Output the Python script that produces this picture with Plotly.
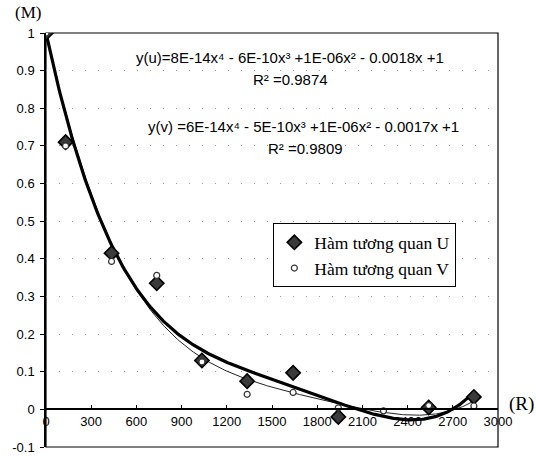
import numpy as np
import plotly.graph_objects as go

# ---- data ----
r_values = [0, 130, 435, 735, 1035, 1335, 1640, 1940, 2240, 2540, 2840]
u_values = [1.0, 0.71, 0.415, 0.335, 0.13, 0.075, 0.097, -0.02, None, 0.005, 0.033]
v_values = [1.0, 0.70, 0.393, 0.356, 0.126, 0.04, 0.045, 0.004, -0.004, 0.01, 0.009]

x_ticks = [0, 300, 600, 900, 1200, 1500, 1800, 2100, 2400, 2700, 3000]
y_ticks = [-0.1, 0, 0.1, 0.2, 0.3, 0.4, 0.5, 0.6, 0.7, 0.8, 0.9, 1]
y_tick_text = ["-0.1", "0", "0.1", "0.2", "0.3", "0.4", "0.5", "0.6", "0.7", "0.8", "0.9", "1"]

series_names = ["Hàm tương quan U", "Hàm tương quan V"]
eq_u = "y(u)=8E-14x⁴ - 6E-10x³ +1E-06x² - 0.0018x +1"
r2_u = "R² =0.9874"
eq_v = "y(v) =6E-14x⁴ - 5E-10x³ +1E-06x² - 0.0017x +1"
r2_v = "R² =0.9809"


def poly_trend(xs, ys):
    pts = [(a, b) for a, b in zip(xs, ys) if b is not None]
    xa = np.array([p[0] for p in pts], float)
    ya = np.array([p[1] for p in pts], float)
    # intercept fixed at 1 (as in the displayed equations)
    A = np.vstack([xa ** k for k in range(1, 5)]).T
    coef, *_ = np.linalg.lstsq(A, ya - 1.0, rcond=None)
    xf = np.linspace(xa.min(), xa.max(), 300)
    yf = 1.0 + sum(coef[k - 1] * xf ** k for k in range(1, 5))
    return xf, yf


xu, yu = poly_trend(r_values, u_values)
xv, yv = poly_trend(r_values, v_values)

fig = go.Figure()
fig.add_trace(go.Scatter(x=xv, y=yv, mode="lines", line=dict(color="#222", width=1),
                         showlegend=False, hoverinfo="skip"))
fig.add_trace(go.Scatter(x=xu, y=yu, mode="lines", line=dict(color="black", width=3.2),
                         showlegend=False, hoverinfo="skip"))
fig.add_trace(go.Scatter(x=r_values, y=u_values, mode="markers", name=series_names[0],
                         marker=dict(symbol="diamond", size=11, color="#3a3a3a",
                                     line=dict(color="black", width=1.6))))
fig.add_trace(go.Scatter(x=r_values, y=v_values, mode="markers", name=series_names[1],
                         marker=dict(symbol="circle", size=6, color="white",
                                     line=dict(color="#333", width=1.2))))

tick_font = dict(family="Liberation Sans", size=13, color="black")

fig.update_layout(
    width=536, height=456,
    margin=dict(l=46, r=38, t=33, b=9, autoexpand=False),
    paper_bgcolor="white", plot_bgcolor="white",
    showlegend=True,
    legend=dict(x=0.503, y=0.54, xanchor="left", yanchor="top",
                bordercolor="black", borderwidth=1, bgcolor="white",
                font=dict(family="Liberation Serif", size=17.5, color="black"),
                itemwidth=30, tracegroupgap=0),
    xaxis=dict(range=[0, 3000], tickvals=x_ticks, ticktext=[str(t) for t in x_ticks],
               anchor="free", position=0.0909, showline=True, linecolor="black",
               linewidth=1.5, ticks="inside", ticklen=4, tickcolor="black",
               showgrid=False, zeroline=False, tickfont=tick_font, automargin=False),
    yaxis=dict(range=[-0.1, 1], tickvals=y_ticks, ticktext=y_tick_text,
               showline=True, linecolor="black", linewidth=1.5, ticks="outside",
               ticklen=4, tickcolor="black", showgrid=True, gridcolor="#999",
               griddash="1px,12px", gridwidth=1, zeroline=False, tickfont=tick_font,
               ticklabelstandoff=3, automargin=False),
    shapes=[dict(type="rect", xref="paper", yref="paper", x0=0, x1=1, y0=0, y1=1,
                 line=dict(color="black", width=1.2), layer="below")],
)

eq_font = dict(family="Liberation Sans", size=15, color="black")
for txt, xx, yy in [(eq_u, 1620, 0.936), (r2_u, 1626, 0.877),
                    (eq_v, 1706, 0.752), (r2_v, 1719, 0.693)]:
    fig.add_annotation(x=xx, y=yy, text=txt, showarrow=False, xanchor="center",
                       yanchor="middle", font=eq_font)

fig.add_annotation(x=-0.04, y=1.05, xref="paper", yref="paper", text="(M)",
                   xanchor="center", yanchor="middle", showarrow=False,
                   font=dict(family="Liberation Serif", size=17, color="black"))
fig.add_annotation(x=1.052, y=0.105, xref="paper", yref="paper", text="(R)",
                   xanchor="center", yanchor="middle", showarrow=False,
                   font=dict(family="Liberation Serif", size=19, color="black"))

fig.write_html("out.html", config={"displayModeBar": False},
               post_script="document.body.style.margin='0px';document.body.style.overflow='hidden';")
